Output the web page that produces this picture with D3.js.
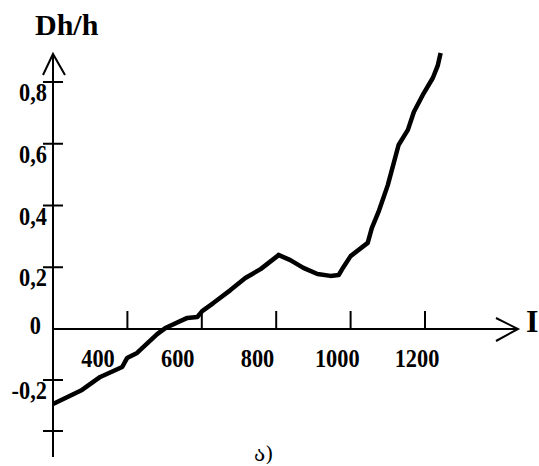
<!DOCTYPE html>
<html>
<head>
<meta charset="utf-8">
<script src="https://cdn.jsdelivr.net/npm/d3@7"></script>
<style>
  html, body { margin: 0; padding: 0; background: #fff; }
  svg { display: block; }
  .lbl { font-family: "Liberation Serif", "Times New Roman", serif; font-weight: bold; fill: #000; }
</style>
</head>
<body>
<svg id="chart" width="539" height="466"></svg>
<script>
// ---- data ----
const currentI = [200, 278, 327, 386, 399, 426, 480, 502, 561, 588, 601, 631, 677, 717, 758, 803, 806,
                  838, 873, 911, 946, 968, 981, 1000, 1046, 1057, 1075, 1100, 1129, 1154, 1170, 1194, 1221, 1234, 1242];
const dhOverH  = [-0.294, -0.239, -0.188, -0.149, -0.114, -0.094, -0.020, 0.003, 0.036, 0.039, 0.058, 0.084, 0.126, 0.165, 0.194, 0.236, 0.240,
                  0.223, 0.198, 0.178, 0.172, 0.175, 0.201, 0.236, 0.279, 0.327, 0.379, 0.466, 0.596, 0.645, 0.703, 0.758, 0.813, 0.852, 0.894];
const xTicks = [400, 600, 800, 1000, 1200];
const xTickLabels = ["400", "600", "800", "1000", "1200"];
const yTicks = [-0.4, -0.2, 0, 0.2, 0.4, 0.6, 0.8];
const yTickLabels = ["", "-0,2", "0", "0,2", "0,4", "0,6", "0,8"];
const yTitle = "Dh/h";
const xTitle = "I";
const panelLabel = "ა)";

// ---- scales ----
const svg = d3.select("#chart");
const x = d3.scaleLinear().domain([200, 1200]).range([53, 425]);
const xLabel = d3.scaleLinear().domain([400, 1200]).range([98, 417]);   // hand-placed label row
const y = d3.scaleLinear().domain([-0.4, 0, 0.8]).range([431, 329, 82]);

const xMin = 200, xMax = 1450;   // axis extent (value space)
const y0 = y(0), x0 = x(xMin);

// ---- axes ----
const g = svg.append("g").attr("stroke", "#000").attr("stroke-width", 2).attr("fill", "none");
g.append("line").attr("x1", x0).attr("x2", x(xMax)).attr("y1", y0).attr("y2", y0);
g.append("path").attr("d", `M${x(xMax) - 22},${y0 - 11}L${x(xMax)},${y0}L${x(xMax) - 22},${y0 + 12}`);
const yTop = 54, yBot = 457;
g.append("line").attr("x1", x0).attr("x2", x0).attr("y1", yTop).attr("y2", yBot);
g.append("path").attr("d", `M${x0 - 10},${yTop + 21}L${x0},${yTop}L${x0 + 12},${yTop + 21}`);

g.selectAll(".xt").data(xTicks).join("line")
  .attr("x1", d => x(d)).attr("x2", d => x(d))
  .attr("y1", y0).attr("y2", y0 - 18);
g.selectAll(".yt").data(yTicks.filter(d => d !== 0)).join("line")
  .attr("x1", x0 - 10).attr("x2", x0 + 10)
  .attr("y1", d => y(d)).attr("y2", d => y(d));

// tick labels
svg.selectAll(".xl").data(xTicks).join("text")
  .attr("class", "lbl")
  .attr("text-anchor", "middle")
  .attr("font-size", 26)
  .attr("transform", d => `translate(${xLabel(d)},${y0 + 38}) scale(0.86,1)`)
  .text((d, i) => xTickLabels[i]);

svg.selectAll(".yl").data(yTicks).join("text")
  .attr("class", "lbl")
  .attr("text-anchor", "end")
  .attr("font-size", 26)
  .attr("transform", d => d === 0
        ? `translate(41,${y0 + 5}) scale(0.86,1)`
        : `translate(47,${y(d) + 19}) scale(0.86,1)`)
  .text((d, i) => yTickLabels[i]);

// titles
svg.append("text").attr("class", "lbl").attr("font-size", 30)
  .attr("x", 35).attr("y", 35).text(yTitle);
svg.append("text").attr("class", "lbl").attr("font-size", 32)
  .attr("x", 526).attr("y", 332).text(xTitle);
svg.append("text")
  .attr("font-family", "'DejaVu Serif', 'DejaVu Sans', serif")
  .attr("font-size", 21).attr("fill", "#000")
  .attr("x", 254).attr("y", 461).text(panelLabel);

// ---- curve ----
const pts = currentI.map((v, i) => [v, dhOverH[i]]);
svg.append("path")
  .datum(pts)
  .attr("fill", "none").attr("stroke", "#000").attr("stroke-width", 4.5)
  .attr("stroke-linejoin", "round").attr("stroke-linecap", "butt")
  .attr("d", d3.line().x(d => x(d[0])).y(d => y(d[1])).curve(d3.curveLinear));
</script>
</body>
</html>
